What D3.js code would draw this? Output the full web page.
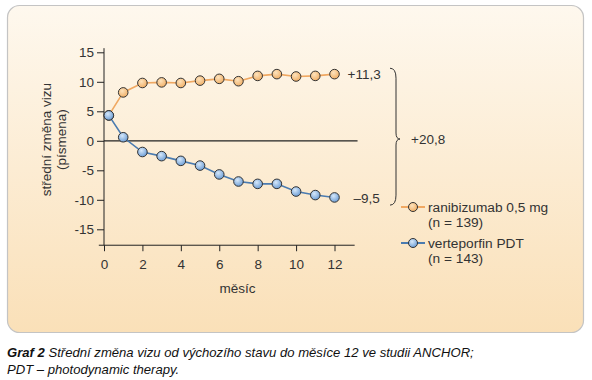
<!DOCTYPE html>
<html>
<head>
<meta charset="utf-8">
<script src="https://cdn.jsdelivr.net/npm/d3@7"></script>
<style>
  body { margin: 0; background: #fff; }
  svg { display: block; font-family: "Liberation Sans", Arial, sans-serif; }
  .axis text { font-size: 13.5px; fill: #333; }
  .axis path, .axis line { stroke: #222; }
</style>
</head>
<body>
<div id="svg"></div>
<script>
// data
var months = [0.25, 1, 2, 3, 4, 5, 6, 7, 8, 9, 10, 11, 12];
var ranibizumab = [4.3, 8.2, 9.8, 9.9, 9.8, 10.2, 10.5, 10.1, 11.0, 11.3, 10.9, 11.0, 11.3];
var verteporfin = [4.3, 0.6, -1.9, -2.6, -3.4, -4.2, -5.7, -6.9, -7.3, -7.3, -8.6, -9.2, -9.6];
var xTicks = [0, 2, 4, 6, 8, 10, 12];
var yTicks = [15, 10, 5, 0, -5, -10, -15];
var seriesNames = ["ranibizumab 0,5 mg", "verteporfin PDT"];
var seriesN = ["(n = 139)", "(n = 143)"];
var endLabels = ["+11,3", "\u20139,5"];
var diffLabel = "+20,8";

var W = 592, H = 380;
var svg = d3.select("#svg").append("svg").attr("width", W).attr("height", H);

var defs = svg.append("defs");
var bg = defs.append("linearGradient").attr("id", "bg").attr("x1", 0).attr("y1", 0).attr("x2", 0).attr("y2", 1);
bg.append("stop").attr("offset", "0%").attr("stop-color", "#fef8ee");
bg.append("stop").attr("offset", "100%").attr("stop-color", "#fae0b8");

var gO = defs.append("radialGradient").attr("id", "mo").attr("cx", "40%").attr("cy", "35%").attr("r", "65%");
gO.append("stop").attr("offset", "0%").attr("stop-color", "#fde3bd");
gO.append("stop").attr("offset", "100%").attr("stop-color", "#f1b068");
var gB = defs.append("radialGradient").attr("id", "mb").attr("cx", "40%").attr("cy", "35%").attr("r", "65%");
gB.append("stop").attr("offset", "0%").attr("stop-color", "#d6e8fa");
gB.append("stop").attr("offset", "100%").attr("stop-color", "#6f9fd6");

// panel
svg.append("rect").attr("x", 7.5).attr("y", 5.5).attr("width", 576).attr("height", 327)
  .attr("rx", 12).attr("fill", "url(#bg)").attr("stroke", "#c4c4c4").attr("stroke-width", 1.2);

// scales
var x = d3.scaleLinear().domain([0, 12]).range([104, 334.5]);
var y = d3.scaleLinear().domain([0, 15]).range([140.8, 52.3]);

var g = svg.append("g");

// y axis
g.append("g").attr("class", "axis")
  .attr("transform", "translate(" + x(0) + ",0)")
  .call(d3.axisLeft(y).tickValues(yTicks).tickSize(7).tickPadding(3)
    .tickFormat(function(d){ return d < 0 ? "-" + Math.abs(d) : d; }))
  .call(function(a){ a.select(".domain").attr("d", "M0," + y(15.7) + "V" + y(-17.7)); });

// x axis
g.append("g").attr("class", "axis")
  .attr("transform", "translate(0," + y(-17.7) + ")")
  .call(d3.axisBottom(x).tickValues(xTicks).tickSize(6).tickPadding(8))
  .call(function(a){ a.select(".domain").attr("d", "M" + x(-0.27) + ",0H" + x(13.05)); });

// zero line
g.append("line").attr("x1", x(0)).attr("x2", x(13.2)).attr("y1", y(0)).attr("y2", y(0))
  .attr("stroke", "#222").attr("stroke-width", 1.2);

// axis titles
svg.append("text").attr("x", x(6.95)).attr("y", 293).attr("text-anchor", "middle")
  .attr("font-size", 13.5).attr("fill", "#333").text("m\u011bs\u00edc");
var yl = svg.append("text").attr("transform", "translate(51," + y(0.2) + ") rotate(-90)")
  .attr("text-anchor", "middle").attr("font-size", 13.5).attr("fill", "#333");
yl.append("tspan").attr("x", 0).attr("dy", 0).text("st\u0159edn\u00ed zm\u011bna vizu");
yl.append("tspan").attr("x", 0).attr("dy", 15).text("(p\u00edsmena)");

// series
var series = [
  {vals: ranibizumab, line: "#f0a862", fill: "url(#mo)"},
  {vals: verteporfin, line: "#4a7bb0", fill: "url(#mb)"}
];
var line = d3.line().x(function(d, i){ return x(months[i]); }).y(function(d){ return y(d); });

series.forEach(function(s){
  g.append("path").datum(s.vals).attr("d", line)
    .attr("fill", "none").attr("stroke", s.line).attr("stroke-width", 1.6);
});
series.forEach(function(s){
  g.selectAll(null).data(s.vals).enter().append("circle")
    .attr("cx", function(d, i){ return x(months[i]); })
    .attr("cy", function(d){ return y(d); })
    .attr("r", 4.8).attr("fill", s.fill).attr("stroke", "#333").attr("stroke-width", 1);
});

// end labels
var last = months.length - 1;
svg.append("text").attr("x", x(12) + 13).attr("y", y(ranibizumab[last]) + 4.5)
  .attr("font-size", 13.5).attr("fill", "#333").text(endLabels[0]);
svg.append("text").attr("x", x(12) + 19).attr("y", y(verteporfin[last]) + 5.5)
  .attr("font-size", 13.5).attr("fill", "#333").text(endLabels[1]);

// brace
var bx = 390, by0 = y(12.3), by1 = y(-10.9), bm = y(0.3);
svg.append("path")
  .attr("d", "M" + bx + "," + by0 + " Q" + (bx + 6) + "," + by0 + " " + (bx + 6) + "," + (by0 + 10) +
    " L" + (bx + 6) + "," + (bm - 6) + " Q" + (bx + 6) + "," + bm + " " + (bx + 10) + "," + bm +
    " Q" + (bx + 6) + "," + bm + " " + (bx + 6) + "," + (bm + 6) +
    " L" + (bx + 6) + "," + (by1 - 10) + " Q" + (bx + 6) + "," + by1 + " " + bx + "," + by1)
  .attr("fill", "none").attr("stroke", "#333").attr("stroke-width", 1);
svg.append("text").attr("x", 411).attr("y", bm + 5).attr("font-size", 13.5).attr("fill", "#333").text(diffLabel);

// legend
var leg = svg.append("g").attr("transform", "translate(401,207)");
series.forEach(function(s, i){
  var r = leg.append("g").attr("transform", "translate(0," + (i * 36) + ")");
  r.append("line").attr("x1", 0).attr("x2", 24).attr("stroke", s.line).attr("stroke-width", 2);
  r.append("circle").attr("cx", 12).attr("r", 4.5).attr("fill", s.fill).attr("stroke", "#333").attr("stroke-width", 1);
  r.append("text").attr("x", 27).attr("y", 4.5).attr("font-size", 13.7).attr("fill", "#333").text(seriesNames[i]);
  r.append("text").attr("x", 27).attr("y", 20).attr("font-size", 13.7).attr("fill", "#333").text(seriesN[i]);
});

// caption
var cap = svg.append("text").attr("x", 7).attr("y", 357).attr("font-size", 13.1)
  .attr("font-style", "italic").attr("fill", "#111");
cap.append("tspan").attr("font-weight", "bold").text("Graf 2");
cap.append("tspan").text("  St\u0159edn\u00ed zm\u011bna vizu od v\u00fdchoz\u00edho stavu do m\u011bs\u00edce 12 ve studii ANCHOR;");
svg.append("text").attr("x", 7).attr("y", 374).attr("font-size", 13.1)
  .attr("font-style", "italic").attr("fill", "#111").text("PDT \u2013 photodynamic therapy.");
</script>
</body>
</html>
